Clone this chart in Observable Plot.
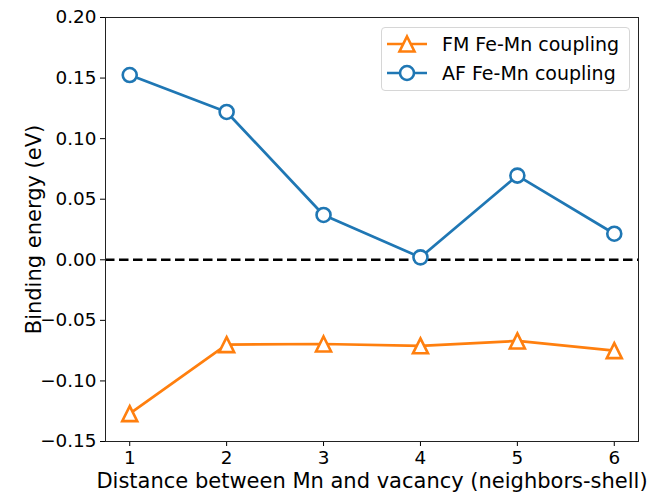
<!DOCTYPE html>
<html>
<head>
<meta charset="utf-8">
<script src="https://cdn.jsdelivr.net/npm/d3@7"></script>
<script src="https://cdn.jsdelivr.net/npm/@observablehq/plot@0.6"></script>
<style>
  html, body { margin: 0; padding: 0; background: #fff; }
  #wrap { position: relative; width: 647px; height: 494px; font-family: "DejaVu Sans", sans-serif; }
  #wrap svg [aria-label="x-axis label"] text, #wrap svg [aria-label="y-axis label"] text { font-size: 21px; }
  #legend { position: absolute; left: 381px; top: 27px; width: 247px; height: 62px;
    border: 1px solid #d6d6d6; border-radius: 4px; background: rgba(255,255,255,0.8);
    font-size: 19px; color: #000; }
  .row { position: absolute; left: 5px; height: 24px; display: flex; align-items: center; }
  .row svg { margin-right: 13px; }
</style>
</head>
<body>
<div id="wrap"></div>
<script>
const shells = [1, 2, 3, 4, 5, 6];
const fmValues = [-0.127, -0.070, -0.0695, -0.071, -0.067, -0.075];
const afValues = [0.1525, 0.122, 0.037, 0.002, 0.0695, 0.0215];
const seriesNames = ["FM Fe-Mn coupling", "AF Fe-Mn coupling"];
const seriesColors = ["#ff7f0e", "#1f77b4"];
const xTicks = [1, 2, 3, 4, 5, 6];
const yTicks = [-0.15, -0.10, -0.05, 0.00, 0.05, 0.10, 0.15, 0.20];
const xLabel = "Distance between Mn and vacancy (neighbors-shell)";
const yLabel = "Binding energy (eV)";

const fm = shells.map((s, i) => ({x: s, y: fmValues[i]}));
const af = shells.map((s, i) => ({x: s, y: afValues[i]}));

// matplotlib-style "^" marker: isosceles triangle centred on its bounding box
const mplTriangle = {
  draw(ctx, size) {
    const r = Math.sqrt(size / Math.PI);
    ctx.moveTo(0, -r);
    ctx.lineTo(r, r);
    ctx.lineTo(-r, r);
    ctx.closePath();
  }
};

const chart = Plot.plot({
  width: 647,
  height: 494,
  marginLeft: 105,
  marginRight: 9,
  marginTop: 17,
  marginBottom: 53,
  style: {fontFamily: "DejaVu Sans, sans-serif", fontSize: "18.4px", color: "#000", background: "#fff"},
  x: {domain: [0.75, 6.25], ticks: xTicks, tickFormat: d3.format("d"), tickSize: 5, tickPadding: 4, label: xLabel, labelAnchor: "center", labelOffset: 46, labelArrow: "none"},
  y: {domain: [-0.15, 0.20], ticks: yTicks, tickFormat: d3.format(".2f"), tickSize: 5, tickPadding: 4, label: yLabel, labelAnchor: "center", labelOffset: 79, labelArrow: "none"},
  marks: [
    Plot.ruleY([0], {stroke: "#000", strokeWidth: 2.5, strokeDasharray: "9.5,4.5"}),
    Plot.line(fm, {x: "x", y: "y", stroke: seriesColors[0], strokeWidth: 2.7}),
    Plot.dot(fm, {x: "x", y: "y", symbol: mplTriangle, r: 7.5, stroke: seriesColors[0], strokeWidth: 2.6, fill: "#fff"}),
    Plot.line(af, {x: "x", y: "y", stroke: seriesColors[1], strokeWidth: 2.7}),
    Plot.dot(af, {x: "x", y: "y", r: 7, stroke: seriesColors[1], strokeWidth: 2.6, fill: "#fff"}),
    Plot.frame({stroke: "#222", strokeWidth: 1})
  ]
});

const wrap = document.getElementById("wrap");
wrap.appendChild(chart);

// Legend (matplotlib style, inside the axes, upper right)
const legend = document.createElement("div");
legend.id = "legend";
const rowTops = [4, 33];
seriesNames.forEach((name, i) => {
  const row = document.createElement("div");
  row.className = "row";
  row.style.top = rowTops[i] + "px";
  const marker = i === 0
    ? `<path d="M20,4.5 L27.5,19.5 L12.5,19.5 Z" fill="#fff" stroke="${seriesColors[i]}" stroke-width="2.6"/>`
    : `<circle cx="20" cy="12" r="7" fill="#fff" stroke="${seriesColors[i]}" stroke-width="2.6"/>`;
  row.innerHTML = `<svg width="42" height="24"><line x1="0" x2="40" y1="12" y2="12" stroke="${seriesColors[i]}" stroke-width="2.7"/>${marker}</svg><span>${name}</span>`;
  legend.appendChild(row);
});
wrap.appendChild(legend);
</script>
</body>
</html>
